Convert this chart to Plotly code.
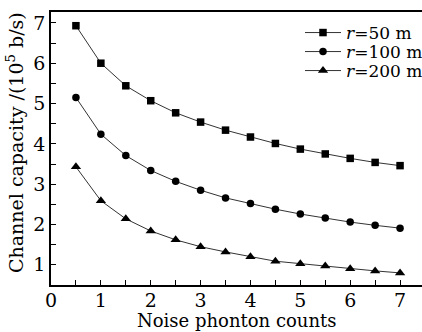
import plotly.graph_objects as go

x_vals = [0.5, 1, 1.5, 2, 2.5, 3, 3.5, 4, 4.5, 5, 5.5, 6, 6.5, 7]
r50 = [6.93, 6.00, 5.44, 5.07, 4.77, 4.54, 4.34, 4.17, 4.01, 3.87, 3.75, 3.64, 3.54, 3.46]
r100 = [5.15, 4.24, 3.71, 3.34, 3.07, 2.85, 2.66, 2.52, 2.38, 2.26, 2.16, 2.06, 1.98, 1.91]
r200 = [3.43, 2.59, 2.14, 1.84, 1.62, 1.45, 1.32, 1.20, 1.09, 1.03, 0.97, 0.90, 0.85, 0.80]
labels = ["<i>r</i>=50 m", "<i>r</i>=100 m", "<i>r</i>=200 m"]
symbols = ["square", "circle", "triangle-up"]
marker_sizes = [7.5, 7.5, 9]
x_title = "Noise phonton counts"
y_title = "Channel capacity /(10<sup>5</sup> b/s)"

FONT = "DejaVu Serif"
PLOT_H = 332 - 12 - 47
PLOT_W = 422 - 51

legend_names = ["legend", "legend2", "legend3"]
legend_rows_px = [33, 52, 71]

fig = go.Figure()
for ys, name, sym, ms, lg in zip([r50, r100, r200], labels, symbols, marker_sizes, legend_names):
    fig.add_trace(go.Scatter(
        x=x_vals, y=ys, name=name, mode="lines+markers",
        line=dict(color="#333333", width=1),
        marker=dict(symbol=sym, size=ms, color="black"),
        legend=lg,
    ))

axis_common = dict(
    showgrid=False, zeroline=False, showline=True, linecolor="black", linewidth=1.5,
    ticks="inside", ticklen=5, tickcolor="black", tickwidth=1,
    tickfont=dict(family=FONT, size=19, color="black"),
    automargin=False,
)
fig.update_xaxes(
    range=[0, 7.44], dtick=1, tick0=0, mirror=True, ticklabelstandoff=-3,
    minor=dict(dtick=0.5, ticks="inside", ticklen=5, tickcolor="black"),
    **axis_common,
)
fig.update_yaxes(
    range=[0.5, 7.27], dtick=1, tick0=0,
    minor=dict(dtick=0.5, ticks="inside", ticklen=5, tickcolor="black"),
    **axis_common,
)
fig.add_annotation(
    text=x_title, xref="paper", yref="paper", x=0.5, y=-47 / PLOT_H,
    xanchor="center", yanchor="bottom", yshift=0, borderpad=0, showarrow=False,
    font=dict(family=FONT, size=18, color="black"),
)
fig.add_annotation(
    text=y_title, xref="paper", yref="paper", x=-49 / PLOT_W, y=0.52,
    xanchor="left", yanchor="middle", textangle=-90, borderpad=0, showarrow=False,
    font=dict(family=FONT, size=19, color="black"),
)

layout_legends = {}
for lg, py in zip(legend_names, legend_rows_px):
    layout_legends[lg] = dict(
        x=(300 - 51) / PLOT_W, y=(285 - py) / PLOT_H, xanchor="left", yanchor="middle",
        font=dict(family=FONT, size=17, color="black"),
        bgcolor="rgba(0,0,0,0)", itemwidth=36,
    )

fig.update_layout(
    width=422, height=332,
    margin=dict(l=51, r=0, t=12, b=47, autoexpand=False),
    paper_bgcolor="white", plot_bgcolor="white",
    showlegend=True,
    **layout_legends,
)
fig.write_html("out.html")
